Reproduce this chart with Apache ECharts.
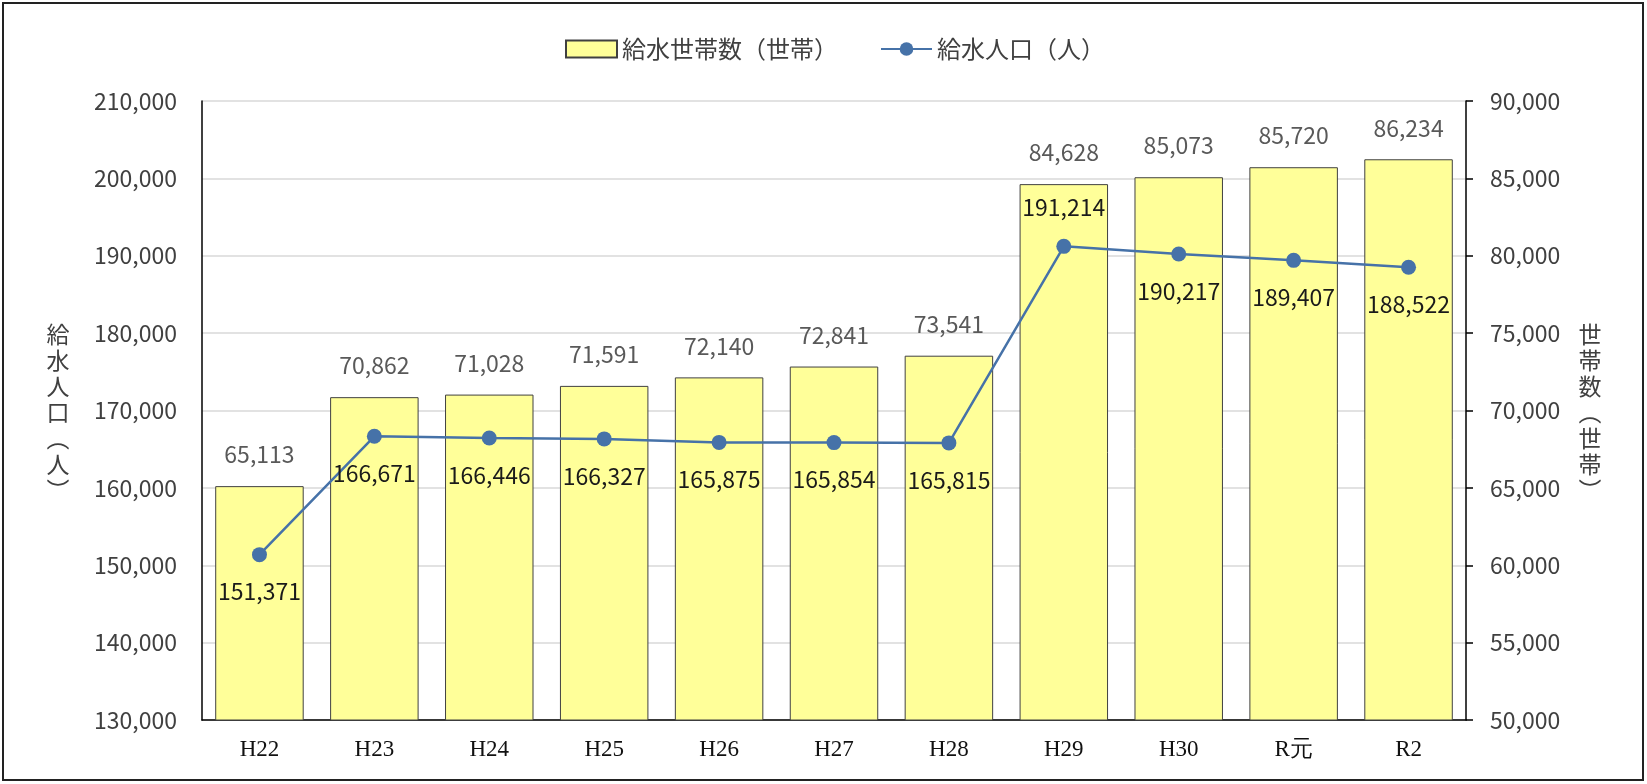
<!DOCTYPE html>
<html>
<head>
<meta charset="utf-8">
<script src="https://cdn.jsdelivr.net/npm/echarts@6/dist/echarts.min.js"></script>
<style>
  html, body { margin: 0; padding: 0; background: #fff; }
  #chart { width: 1647px; height: 784px; }
</style>
</head>
<body>
<div id="chart"></div>
<script>
const categories = ['H22', 'H23', 'H24', 'H25', 'H26', 'H27', 'H28', 'H29', 'H30', 'R元', 'R2'];
const households = [65113, 70862, 71028, 71591, 72140, 72841, 73541, 84628, 85073, 85720, 86234];
const population = [151371, 166671, 166446, 166327, 165875, 165854, 165815, 191214, 190217, 189407, 188522];
const labelAbove = ['H29'];

const jp = '"Noto Sans CJK JP", "Noto Sans", sans-serif';
const fmt = v => Number(v).toLocaleString('en-US');

const initChart = function () {
  const myChart = echarts.init(document.getElementById('chart'));

  const popData = population.map((v, i) => {
    if (labelAbove.indexOf(categories[i]) >= 0) {
      return { value: v, label: { position: 'top', distance: 20 } };
    }
    return v;
  });

  const option = {
    animation: false,
    textStyle: { fontFamily: jp },
    grid: { left: 202, right: 181, top: 101, bottom: 64 },
    legend: {
      left: 560,
      top: 32,
      itemWidth: 51,
      itemHeight: 17,
      itemGap: 42,
      textStyle: { fontSize: 24, color: '#404040', fontFamily: jp },
      data: [
        { name: '給水世帯数（世帯）', icon: 'rect' },
        { name: '給水人口（人）' }
      ]
    },
    graphic: [
      {
        type: 'rect', silent: true,
        shape: { x: 3, y: 3, width: 1640, height: 777 },
        style: { fill: 'none', stroke: '#222', lineWidth: 2 }
      },
      {
        type: 'text', x: 58, y: 412,
        style: {
          text: '給\n水\n人\n口\n︵\n人\n︶',
          font: '23px ' + jp, fill: '#404040',
          align: 'center', verticalAlign: 'middle', lineHeight: 26
        }
      },
      {
        type: 'text', x: 1590, y: 412,
        style: {
          text: '世\n帯\n数\n︵\n世\n帯\n︶',
          font: '23px ' + jp, fill: '#404040',
          align: 'center', verticalAlign: 'middle', lineHeight: 26
        }
      }
    ],
    xAxis: {
      type: 'category',
      data: categories,
      axisLine: { lineStyle: { color: '#000', width: 1.5 } },
      axisTick: { show: false },
      axisLabel: {
        margin: 18,
        fontSize: 23,
        color: '#111',
        fontFamily: '"Liberation Serif", serif'
      }
    },
    yAxis: [
      {
        type: 'value',
        min: 130000, max: 210000, interval: 10000,
        axisLine: { show: true, lineStyle: { color: '#000', width: 1.5 } },
        axisTick: { show: false },
        axisLabel: { margin: 25, fontSize: 23, color: '#404040', formatter: fmt },
        splitLine: { lineStyle: { color: '#D9D9D9', width: 1.5 } }
      },
      {
        type: 'value',
        min: 50000, max: 90000, interval: 5000,
        axisLine: { show: true, lineStyle: { color: '#000', width: 1.5 } },
        axisTick: { show: true, length: 7, lineStyle: { color: '#000', width: 1.5 } },
        axisLabel: { margin: 24, fontSize: 23, color: '#404040', formatter: fmt },
        splitLine: { show: false }
      }
    ],
    series: [
      {
        name: '給水世帯数（世帯）',
        type: 'bar',
        yAxisIndex: 1,
        data: households,
        barCategoryGap: '23%',
        itemStyle: { color: '#FFFF99', borderColor: '#404040', borderWidth: 1 },
        label: {
          show: true, position: 'top', distance: 20,
          fontSize: 23, color: '#595959', formatter: p => fmt(p.value)
        }
      },
      {
        name: '給水人口（人）',
        type: 'line',
        yAxisIndex: 0,
        data: popData,
        symbol: 'circle',
        symbolSize: 15,
        lineStyle: { color: '#4672A8', width: 2.5 },
        itemStyle: { color: '#4672A8' },
        label: {
          show: true, position: 'bottom', distance: 18,
          fontSize: 23, color: '#1a1a1a', formatter: p => fmt(p.value)
        },
        z: 5
      }
    ]
  };

  myChart.setOption(option);
};

window.addEventListener('load', function () {
  initChart();
});
</script>
</body>
</html>
